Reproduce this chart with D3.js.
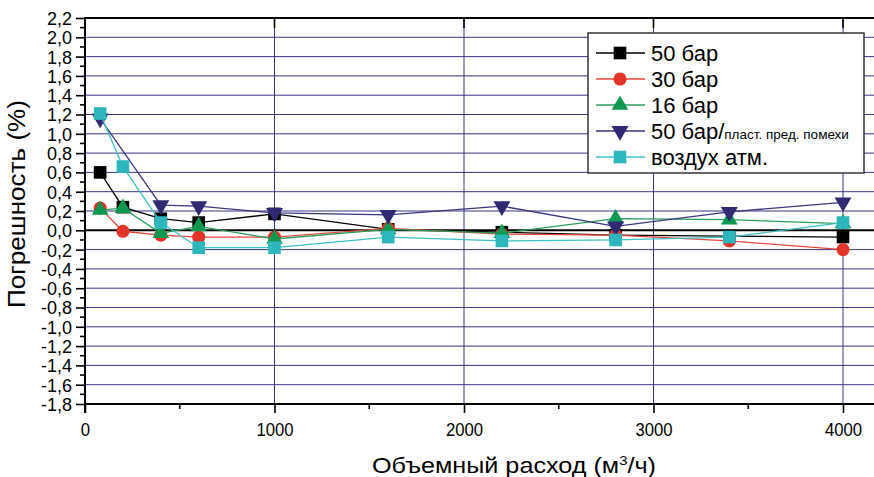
<!DOCTYPE html>
<html>
<head>
<meta charset="utf-8">
<script src="https://cdn.jsdelivr.net/npm/d3@7"></script>
<style>
  body { margin: 0; background: #fff; }
  svg { display: block; font-family: "Liberation Sans", Arial, sans-serif; }
</style>
</head>
<body>
<div id="chart"></div>
<script>
// flow rate, m3/h
const flow = [80, 200, 400, 600, 1000, 1600, 2200, 2800, 3400, 4000];

// error, %
const bar50  = [0.60, 0.24, 0.12, 0.08, 0.17, 0.01, -0.02, -0.05, -0.06, -0.07];
const bar30  = [0.23, -0.01, -0.05, -0.07, -0.07, 0.02, -0.04, -0.05, -0.11, -0.20];
const bar16  = [0.21, 0.23, -0.03, 0.04, -0.09, 0.01, -0.03, 0.12, 0.11, 0.07];
const bar50n = [1.16, null, 0.26, 0.25, 0.18, 0.16, 0.25, 0.04, 0.19, 0.29];
const air    = [1.21, 0.66, 0.08, -0.18, -0.18, -0.07, -0.11, -0.10, -0.07, 0.08];

const seriesNames = ["50 бар", "30 бар", "16 бар", "50 бар/", "воздух атм."];
const xTicks = [0, 1000, 2000, 3000, 4000];
const yTicks = d3.range(-18, 23, 2).map(v => v / 10);

const W = 874, H = 477;
const mLeft = 85, mRight = 874, mTop = 18, mBottom = 404;

const x = d3.scaleLinear().domain([0, 4000]).range([mLeft, 843]);
const y = d3.scaleLinear().domain([-1.8, 2.2]).range([mBottom, mTop]);

const series = [
  {name: seriesNames[0], values: bar50,  color: "#000000", line: "#000000", symbol: d3.symbolSquare,   size: 160, rot: 0},
  {name: seriesNames[1], values: bar30,  color: "#e3342a", line: "#e8453c", symbol: d3.symbolCircle,   size: 135, rot: 0},
  {name: seriesNames[2], values: bar16,  color: "#0f9850", line: "#2a9d5e", symbol: d3.symbolTriangle, size: 120, rot: 0},
  {name: seriesNames[3], values: bar50n, color: "#2f2a72", line: "#3a3680", symbol: d3.symbolTriangle, size: 125, rot: 180},
  {name: seriesNames[4], values: air,    color: "#2db6bb", line: "#3cc0c4", symbol: d3.symbolSquare,   size: 160, rot: 0}
];

const svg = d3.select("#chart").append("svg")
    .attr("width", W)
    .attr("height", H);

// grid
const grid = svg.append("g").attr("stroke", "#3a3585").attr("stroke-width", 1);
grid.selectAll("line.h")
  .data(yTicks.filter(v => Math.abs(v) > 1e-9 && v > -1.75 && v < 2.15))
  .join("line")
    .attr("class", "h")
    .attr("x1", mLeft).attr("x2", mRight)
    .attr("y1", d => y(d)).attr("y2", d => y(d));
grid.selectAll("line.v")
  .data(xTicks.slice(1))
  .join("line")
    .attr("class", "v")
    .attr("x1", d => x(d)).attr("x2", d => x(d))
    .attr("y1", mTop).attr("y2", mBottom);

// zero line
svg.append("line")
    .attr("x1", mLeft).attr("x2", mRight)
    .attr("y1", y(0)).attr("y2", y(0))
    .attr("stroke", "#000").attr("stroke-width", 2);

// left axis
const yAxis = d3.axisLeft(y)
    .tickValues(yTicks)
    .tickSize(9)
    .tickPadding(4)
    .tickFormat(d => d3.format(".1f")(d).replace(".", ",").replace("−", "-"));
const gy = svg.append("g").attr("transform", `translate(${mLeft},0)`).call(yAxis);
gy.select(".domain").remove();
gy.selectAll("line").attr("stroke", "#000").attr("stroke-width", 1.6);
gy.selectAll("text").attr("font-size", 18).attr("fill", "#000").attr("dy", "0.36em");
svg.append("g").selectAll("line")
  .data(d3.range(-17, 22, 2).map(v => v / 10))
  .join("line")
    .attr("x1", mLeft - 5).attr("x2", mLeft)
    .attr("y1", d => y(d)).attr("y2", d => y(d))
    .attr("stroke", "#000").attr("stroke-width", 1.6);

// bottom axis
const xAxis = d3.axisBottom(x)
    .tickValues(xTicks)
    .tickSize(9)
    .tickPadding(10)
    .tickFormat(d3.format("d"));
const gx = svg.append("g").attr("transform", `translate(0,${mBottom})`).call(xAxis);
gx.select(".domain").remove();
gx.selectAll("line").attr("stroke", "#000").attr("stroke-width", 1.6);
gx.selectAll("text")
    .attr("font-size", 19)
    .attr("fill", "#000")
    .attr("transform", "scale(0.88,1)");
svg.append("g").selectAll("line")
  .data([500, 1500, 2500, 3500])
  .join("line")
    .attr("x1", d => x(d)).attr("x2", d => x(d))
    .attr("y1", mBottom).attr("y2", mBottom + 5)
    .attr("stroke", "#000").attr("stroke-width", 1.6);

// top frame inner ticks
svg.append("g").selectAll("line")
  .data(xTicks.slice(1))
  .join("line")
    .attr("x1", d => x(d)).attr("x2", d => x(d))
    .attr("y1", mTop).attr("y2", mTop + 10)
    .attr("stroke", "#000").attr("stroke-width", 1.6);

// axis lines
svg.append("line").attr("x1", mLeft).attr("x2", mRight).attr("y1", mBottom).attr("y2", mBottom)
    .attr("stroke", "#000").attr("stroke-width", 2);
svg.append("line").attr("x1", mLeft).attr("x2", mRight).attr("y1", mTop).attr("y2", mTop)
    .attr("stroke", "#000").attr("stroke-width", 2);
svg.append("line").attr("x1", mLeft).attr("x2", mLeft).attr("y1", mTop - 1).attr("y2", mBottom + 9)
    .attr("stroke", "#000").attr("stroke-width", 2);

// series
const line = d3.line()
    .x(d => x(d[0]))
    .y(d => y(d[1]));

series.forEach(s => {
  const pts = flow.map((f, i) => [f, s.values[i]]).filter(d => d[1] !== null);
  const g = svg.append("g");
  g.append("path")
      .datum(pts)
      .attr("d", line)
      .attr("fill", "none")
      .attr("stroke", s.line)
      .attr("stroke-width", 1.3);
  g.selectAll("path.m")
    .data(pts)
    .join("path")
      .attr("class", "m")
      .attr("d", d3.symbol().type(s.symbol).size(s.size))
      .attr("transform", d => `translate(${x(d[0])},${y(d[1])}) rotate(${s.rot})`)
      .attr("fill", s.color);
});

// legend
const lg = svg.append("g").attr("transform", "translate(588,33)");
lg.append("rect")
    .attr("width", 276).attr("height", 140)
    .attr("fill", "#fff")
    .attr("stroke", "#333").attr("stroke-width", 1.5);
const rows = lg.selectAll("g.row")
  .data(series)
  .join("g")
    .attr("class", "row")
    .attr("transform", (d, i) => `translate(0,${20 + i * 26})`);
rows.append("line")
    .attr("x1", 8).attr("x2", 57)
    .attr("stroke", d => d.line).attr("stroke-width", 1.3);
rows.append("path")
    .attr("d", d => d3.symbol().type(d.symbol).size(d.size)())
    .attr("transform", d => `translate(32,0) rotate(${d.rot})`)
    .attr("fill", d => d.color);
const lt = rows.append("text")
    .attr("x", 63).attr("y", 8)
    .attr("font-size", 22)
    .attr("fill", "#000")
    .text(d => d.name);
lt.filter((d, i) => i === 3)
  .append("tspan")
    .attr("font-size", 13.5)
    .text("пласт. пред. помехи");

// axis titles
const xt = svg.append("text")
    .attr("x", 514).attr("y", 473)
    .attr("text-anchor", "middle")
    .attr("font-size", 22)
    .attr("textLength", 284)
    .attr("lengthAdjust", "spacingAndGlyphs");
xt.append("tspan").text("Объемный расход (м");
xt.append("tspan").attr("dy", -8).attr("font-size", 13).text("3");
xt.append("tspan").attr("dy", 8).text("/ч)");

svg.append("text")
    .attr("transform", "translate(25,204) rotate(-90)")
    .attr("text-anchor", "middle")
    .attr("font-size", 23)
    .attr("textLength", 208)
    .attr("lengthAdjust", "spacingAndGlyphs")
    .text("Погрешность (%)");
</script>
</body>
</html>
